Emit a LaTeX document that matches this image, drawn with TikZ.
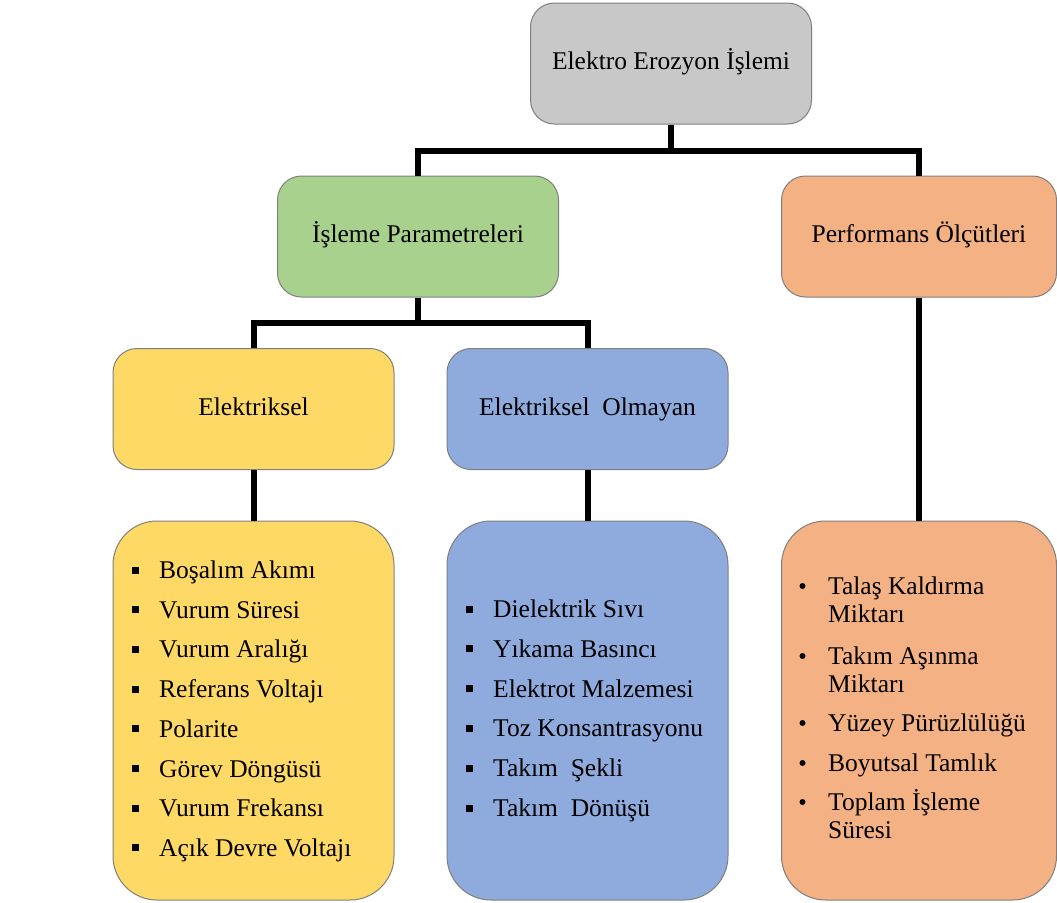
\documentclass[tikz,border=0pt]{standalone}
\usepackage{fontspec}
\setmainfont{Liberation Serif}
\usetikzlibrary{positioning}

\definecolor{rootgray}{HTML}{C8C8C8}
\definecolor{paramgreen}{HTML}{A9D18E}
\definecolor{perforange}{HTML}{F4B183}
\definecolor{elecyellow}{HTML}{FFD966}
\definecolor{nonelecblue}{HTML}{8FAADC}
\definecolor{edgegray}{HTML}{7F7F7F}

\tikzset{
  box/.style={draw=edgegray, line width=1pt, rounded corners=24pt,
    minimum width=281pt, minimum height=121pt, inner sep=0pt,
    text height=17pt, text depth=5pt},
  listbox/.style={box, rounded corners=44pt, minimum height=379pt},
  conn/.style={line width=6pt, black},
  item/.style={anchor=base west, inner sep=0pt},
  sqbullet/.style={fill=black, minimum size=7pt, inner sep=0pt},
  dotbullet/.style={circle, fill=black, minimum size=6pt, inner sep=0pt},
}

\begin{document}
\begin{tikzpicture}[x=1pt, y=-1pt, font=\fontsize{25.5}{28}\selectfont]
  \useasboundingbox (0,0) rectangle (1057,902);
  % ---------------- boxes ----------------
  \node[box, fill=rootgray]    (root)   at (671,63.5)    {Elektro Erozyon İşlemi};
  \node[box, fill=paramgreen]  (param)  at (418,236.5)   {İşleme Parametreleri};
  \node[box, fill=perforange, minimum width=275pt] (perf) at (919,236.5) {Performans Ölçütleri};
  \node[box, fill=elecyellow]  (elec)   at (253.5,409)   {Elektriksel};
  \node[box, fill=nonelecblue] (nonelec) at (587.5,409)  {Elektriksel\ \ Olmayan};
  \node[listbox, fill=elecyellow]  (eleclist)    at (253.5,710.5) {};
  \node[listbox, fill=nonelecblue] (noneleclist) at (587.5,710.5) {};
  \node[listbox, fill=perforange, minimum width=275pt] (perflist) at (919,710.5) {};
  % ---------------- connectors ----------------
  \draw[conn] (root.south) -- ++(0,26) coordinate (rootjoin);
  \draw[conn] (param.north) |- (rootjoin) -| (perf.north);
  \draw[conn] (param.south) -- ++(0,25) coordinate (paramjoin);
  \draw[conn] (elec.north) |- (paramjoin) -| (nonelec.north);
  \draw[conn] (elec.south) -- (eleclist.north);
  \draw[conn] (nonelec.south) -- (noneleclist.north);
  \draw[conn] (perf.south) -- (perflist.north);
  % ---------------- (a) elektriksel ----------------
  \foreach \txt [count=\i from 0] in {Boşalım Akımı, Vurum Süresi, Vurum Aralığı,
      Referans Voltajı, Polarite, Görev Döngüsü, Vurum Frekansı, Açık Devre Voltajı}{
    \node[sqbullet] (elecb\i) at (135,570+\i*39.7) {};
    \node[item] (eleci\i) at (159,578.5+\i*39.7) {\txt};
  }
  % ---------------- (b) elektriksel olmayan ----------------
  \foreach \txt [count=\i from 0] in {Dielektrik Sıvı, Yıkama Basıncı, Elektrot Malzemesi,
      Toz Konsantrasyonu, Takım\ \ Şekli, Takım\ \ Dönüşü}{
    \node[sqbullet] (nonelecb\i) at (469.5,609+\i*39.8) {};
    \node[item] (noneleci\i) at (493,617.5+\i*39.8) {\txt};
  }
  % ---------------- (c) performans ----------------
  \foreach \y/\txt [count=\i] in {586/Talaş Kaldırma, 614/Miktarı, 656/Takım Aşınma, 684/Miktarı,
      723/Yüzey Pürüzlülüğü, 763/Boyutsal Tamlık, 802/Toplam İşleme, 830/Süresi}{
    \node[item] (perfi\i) at (828,\y+8.5) {\txt};
  }
  \foreach \y [count=\i] in {586,656,723,763,802}{
    \node[dotbullet] (perfb\i) at (802.5,\y) {};
  }
\end{tikzpicture}
\end{document}
